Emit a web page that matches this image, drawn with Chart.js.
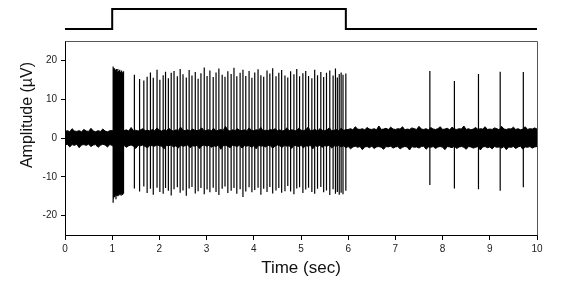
<!DOCTYPE html>
<html><head><meta charset="utf-8">
<script src="https://cdn.jsdelivr.net/npm/chart.js@4.4.0/dist/chart.umd.min.js"></script>
<style>
html,body{margin:0;padding:0;background:#fff;overflow:hidden}
#wrap{position:relative;width:575px;height:288px;background:#fff}
canvas{position:absolute;left:0;top:0}
</style>
</head><body>
<div id="wrap"><canvas id="main" width="575" height="288"></canvas><canvas id="stim" width="575" height="41"></canvas></div>
<script>
// ---- axis ticks & labels ----
const X_TICKS = [0,1,2,3,4,5,6,7,8,9,10];
const Y_TICKS = [-20,-10,0,10,20];
const X_LABEL = 'Time (sec)';
const Y_LABEL = 'Amplitude (\u00B5V)';

// ---- stimulus trace (top) ----
const stimTimes  = [0, 1, 1, 5.95, 5.95, 10];
const stimLevels = [0, 0, 1, 1,    0,    0];

// ---- background noise envelope, sampled every 0.05 s from 0 to 10 s ----
const noiseUpper = [
 1.7,1.9,1.6,2.4,1.8,1.7,1.9,1.6,2.2,1.8,1.7,2.5,1.8,1.6,1.9,1.7,2.3,1.8,1.6,1.9,
 1.9,2.0,2.6,1.8,2.0,1.9,2.1,1.8,2.7,1.9,2.0,1.8,2.1,2.4,1.9,2.0,1.8,2.2,1.9,2.6,
 2.0,1.8,2.1,1.9,2.5,2.0,1.8,2.1,1.9,2.8,2.0,1.9,2.1,1.8,2.3,2.0,1.9,2.1,2.6,1.8,
 2.0,2.1,1.9,2.5,1.8,2.0,2.2,1.9,3.0,2.0,1.8,2.1,1.9,2.4,2.0,1.9,2.1,1.8,2.6,2.0,
 1.9,2.1,2.0,2.7,1.8,2.0,1.9,2.2,2.0,2.4,1.9,2.1,1.8,2.0,2.6,1.9,2.1,2.0,1.8,2.5,
 2.0,1.9,2.1,2.8,1.9,2.0,2.2,1.8,2.4,2.0,1.9,2.1,2.6,1.9,2.0,2.2,1.9,2.5,2.0,2.1,
 2.2,2.4,2.1,2.9,2.3,2.2,2.4,2.1,2.7,2.3,2.2,2.4,2.1,3.1,2.2,2.3,2.5,2.2,2.8,2.3,
 2.2,2.4,2.3,2.9,2.1,2.3,2.2,2.6,2.4,2.2,3.0,2.3,2.2,2.4,2.1,2.7,2.3,2.2,2.4,2.9,
 2.2,2.3,2.5,2.1,2.8,2.3,2.2,2.4,2.3,3.1,2.2,2.4,2.1,2.3,2.7,2.2,2.4,2.3,2.9,2.2,
 2.3,2.2,2.6,2.4,2.1,3.0,2.3,2.2,2.4,2.3,2.8,2.2,2.4,2.1,2.3,2.9,2.2,2.4,2.3,2.6,
 2.3];
const noiseLower = [
 -1.8,-1.6,-2.3,-1.7,-1.9,-1.6,-2.5,-1.8,-1.7,-1.9,-1.6,-2.2,-1.8,-1.7,-2.4,-1.9,-1.6,-1.8,-2.3,-1.7,
 -1.9,-2.6,-2.0,-1.8,-2.1,-1.9,-2.4,-2.0,-1.8,-2.1,-2.7,-1.9,-2.0,-1.8,-2.2,-2.5,-1.9,-2.0,-2.1,-1.8,
 -2.0,-2.1,-2.8,-1.9,-2.0,-1.8,-2.3,-2.0,-2.6,-1.9,-2.1,-2.0,-1.8,-2.5,-2.0,-2.1,-1.9,-2.7,-2.0,-1.8,
 -2.1,-1.9,-2.4,-2.0,-2.2,-1.8,-2.9,-2.0,-1.9,-2.1,-2.5,-1.9,-2.0,-2.2,-1.8,-2.6,-2.0,-2.1,-1.9,-2.4,
 -2.0,-2.8,-1.9,-2.1,-2.0,-2.3,-1.9,-2.0,-2.6,-2.1,-1.8,-2.0,-2.4,-1.9,-2.1,-2.0,-2.7,-1.9,-2.0,-2.2,
 -1.9,-2.5,-2.0,-2.1,-1.9,-2.8,-2.0,-2.2,-1.9,-2.4,-2.0,-2.1,-1.8,-2.6,-2.0,-2.1,-1.9,-2.3,-2.0,-2.5,
 -2.2,-2.8,-2.3,-2.1,-2.4,-2.2,-3.0,-2.3,-2.2,-2.5,-2.1,-2.7,-2.3,-2.2,-2.4,-2.9,-2.2,-2.3,-2.1,-2.6,
 -2.3,-2.2,-2.8,-2.4,-2.2,-2.3,-3.1,-2.2,-2.4,-2.3,-2.6,-2.2,-2.1,-2.9,-2.3,-2.4,-2.2,-2.7,-2.3,-2.2,
 -2.4,-3.0,-2.2,-2.3,-2.5,-2.1,-2.7,-2.3,-2.2,-2.4,-2.9,-2.2,-2.3,-2.6,-2.4,-2.2,-3.1,-2.3,-2.2,-2.5,
 -2.3,-2.8,-2.2,-2.4,-2.3,-2.6,-2.2,-3.0,-2.3,-2.4,-2.2,-2.7,-2.3,-2.1,-2.9,-2.3,-2.4,-2.2,-2.6,-2.3,
 -2.2];

// ---- spikes: time (s), peak (µV), trough (µV) ----
const spikeTimes = [
 1.02,1.03,1.04,1.05,1.06,1.07,1.08,1.09,1.10,1.11,1.12,1.13,1.14,1.15,1.16,1.17,1.18,1.19,1.20,1.21,1.22,1.24,
 1.47,1.58,1.67,1.74,1.81,1.87,1.95,2.01,2.08,2.13,
 2.19,2.25,2.31,2.38,2.44,2.50,2.57,2.63,2.69,2.76,
 2.82,2.88,2.95,3.01,3.07,3.14,3.20,3.26,3.33,3.39,
 3.45,3.52,3.58,3.64,3.71,3.77,3.83,3.90,3.96,4.02,
 4.09,4.15,4.21,4.28,4.34,4.40,4.47,4.53,4.59,4.66,
 4.72,4.78,4.85,4.91,4.97,5.04,5.10,5.16,5.23,5.29,
 5.35,5.42,5.48,5.54,5.61,5.68,5.73,5.77,5.81,5.85,
 5.89,5.95,
 7.73,8.25,8.76,9.22,9.71];
const spikePeaks = [
 18.4,17.9,17.2,18.0,17.5,16.9,17.6,17.8,17.0,16.5,17.8,17.3,16.8,17.3,17.6,16.9,17.1,16.6,17.4,17.0,16.8,17.2,
 16.3,15.2,14.8,15.8,16.9,15.5,17.6,15.0,16.2,17.1,
 15.4,16.8,17.3,15.9,17.8,16.4,15.6,17.5,16.1,17.0,
 15.3,16.7,18.2,16.0,17.4,15.7,16.9,17.9,16.3,15.8,
 17.2,16.5,18.1,15.9,16.8,17.6,16.0,17.3,15.5,16.9,
 17.7,16.2,15.8,17.4,16.6,18.0,15.9,16.8,17.5,16.1,
 15.6,17.2,16.4,17.8,15.9,16.7,17.3,16.0,15.4,17.6,
 16.2,17.0,15.7,16.8,17.4,16.1,17.9,15.6,16.5,16.9,
 16.3,16.6,
 17.3,14.7,16.5,17.1,17.0];
const spikeTroughs = [
 -16.7,-15.5,-14.5,-15.2,-14.8,-14.0,-15.8,-14.3,-14.9,-13.9,-15.0,-14.2,-14.8,-14.6,-13.8,-14.6,-14.1,-14.9,-14.4,-14.2,-14.7,-14.4,
 -13.0,-13.8,-12.5,-14.2,-13.1,-14.6,-12.8,-13.9,-14.4,-12.9,
 -13.6,-14.8,-13.2,-12.7,-14.1,-13.5,-14.9,-13.0,-12.6,-14.3,
 -13.7,-12.9,-14.5,-13.3,-14.0,-12.8,-13.9,-14.7,-13.1,-12.5,
 -14.2,-13.6,-12.9,-14.4,-13.2,-15.2,-13.8,-12.7,-14.0,-13.4,
 -12.8,-14.6,-13.1,-13.9,-12.6,-14.3,-13.5,-12.9,-14.1,-13.7,
 -12.4,-13.8,-14.5,-13.0,-12.7,-14.2,-13.3,-12.8,-13.9,-14.4,
 -13.1,-12.6,-14.0,-13.5,-14.7,-13.2,-14.4,-13.9,-14.6,-14.1,
 -14.5,-13.6,
 -12.1,-13.0,-13.2,-13.6,-12.7];

// ---- build library data from the arrays ----
const noiseStep = 0.05;
const upperPts = noiseUpper.map((v,i)=>({x:+(i*noiseStep).toFixed(2), y:v}));
const lowerPts = noiseLower.map((v,i)=>({x:+(i*noiseStep).toFixed(2), y:v}));
const spikePts = [];
spikeTimes.forEach((t,i)=>{
  spikePts.push({x:t,y:spikeTroughs[i]});
  spikePts.push({x:t,y:spikePeaks[i]});
  spikePts.push({x:t,y:null});
});
const stimPts = stimTimes.map((t,i)=>({x:t,y:stimLevels[i]}));

const FONT = "'Liberation Sans', Arial, Helvetica, sans-serif";

const framePlugin = {
  id:'frame',
  afterDraw(chart){
    const {ctx, chartArea:a} = chart;
    ctx.save();
    ctx.strokeStyle = '#555';
    ctx.lineWidth = 1;
    ctx.beginPath();
    ctx.moveTo(Math.round(a.left)+0.5, Math.round(a.top)+0.5);
    ctx.lineTo(Math.round(a.right)+0.5, Math.round(a.top)+0.5);
    ctx.lineTo(Math.round(a.right)+0.5, Math.round(a.bottom)+0.5);
    ctx.stroke();
    ctx.fillStyle = '#111';
    ctx.textAlign = 'center';
    ctx.textBaseline = 'middle';
    ctx.font = '17px ' + FONT;
    ctx.fillText(X_LABEL, (a.left+a.right)/2, 268);
    ctx.translate(28, 115);
    ctx.rotate(-Math.PI/2);
    ctx.font = '16px ' + FONT;
    ctx.fillText(Y_LABEL, 0, 0);
    ctx.restore();
  }
};

new Chart(document.getElementById('main'), {
  type:'line',
  data:{datasets:[
    {label:'spikes', data:spikePts, borderColor:'#000', borderWidth:1.2, pointRadius:0, spanGaps:false, fill:false, tension:0},
    {label:'noiseUpper', data:upperPts, borderColor:'#000', borderWidth:1, backgroundColor:'#000', pointRadius:0, fill:'+1', tension:0},
    {label:'noiseLower', data:lowerPts, borderColor:'#000', borderWidth:1, pointRadius:0, fill:false, tension:0}
  ]},
  options:{
    responsive:false, animation:false, devicePixelRatio:1,
    layout:{padding:{left:0,right:38,top:41,bottom:0}},
    plugins:{legend:{display:false}, tooltip:{enabled:false}},
    scales:{
      x:{type:'linear', min:0, max:10,
        afterBuildTicks:s=>{s.ticks = X_TICKS.map(v=>({value:v}));},
        afterFit:s=>{s.height = 53;},
        ticks:{font:{family:FONT,size:10}, color:'#222', maxRotation:0, padding:3},
        grid:{display:true, drawOnChartArea:false, drawTicks:true, tickLength:5, color:'#000'},
        border:{display:true, color:'#000', width:1}},
      y:{type:'linear', min:-25, max:25,
        afterBuildTicks:s=>{s.ticks = Y_TICKS.map(v=>({value:v}));},
        afterFit:s=>{s.width = 65;},
        ticks:{font:{family:FONT,size:10}, color:'#222', padding:4},
        grid:{display:true, drawOnChartArea:false, drawTicks:true, tickLength:4, color:'#000'},
        border:{display:true, color:'#000', width:1}}
    }
  },
  plugins:[framePlugin]
});

new Chart(document.getElementById('stim'), {
  type:'line',
  data:{datasets:[{label:'stimulus', data:stimPts, borderColor:'#000', borderWidth:2, pointRadius:0, fill:false, tension:0}]},
  options:{
    responsive:false, animation:false, devicePixelRatio:1,
    layout:{padding:{left:65,right:38,top:0,bottom:0}},
    plugins:{legend:{display:false}, tooltip:{enabled:false}},
    scales:{x:{type:'linear',min:0,max:10,display:false}, y:{type:'linear',min:-0.6,max:1.45,display:false}}
  }
});
</script>
</body></html>
